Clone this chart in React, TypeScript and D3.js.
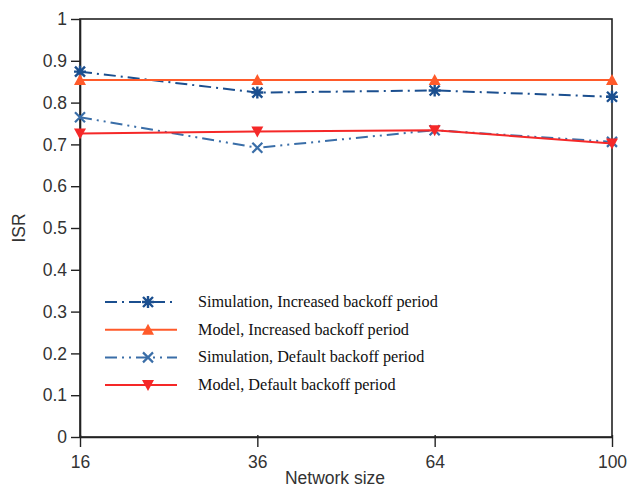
import * as d3 from 'd3'
import { useRef, useEffect } from 'react'

const networkSizes = ['16', '36', '64', '100']
const simIncreased = [0.874, 0.824, 0.829, 0.814]
const modelIncreased = [0.854, 0.854, 0.854, 0.854]
const simDefault = [0.765, 0.692, 0.734, 0.706]
const modelDefault = [0.726, 0.731, 0.734, 0.702]
const yTicks = [0, 0.1, 0.2, 0.3, 0.4, 0.5, 0.6, 0.7, 0.8, 0.9, 1]

const series = [
  { name: 'Simulation, Increased backoff period', values: simIncreased, color: '#1b4f8f', dash: '12,5,2,5', marker: 'star' },
  { name: 'Model, Increased backoff period', values: modelIncreased, color: '#ff5a2a', dash: null, marker: 'up' },
  { name: 'Simulation, Default backoff period', values: simDefault, color: '#3a6ea8', dash: '12,5,2,5,2,5', marker: 'x' },
  { name: 'Model, Default backoff period', values: modelDefault, color: '#f52828', dash: null, marker: 'down' },
]

const sans = 'Liberation Sans, Arial, sans-serif'

function drawMarker(g, type, x, y, color) {
  if (type === 'up') {
    g.append('path').attr('d', `M${x - 6},${y + 5}L${x + 6},${y + 5}L${x},${y - 6}Z`).attr('fill', color)
  } else if (type === 'down') {
    g.append('path').attr('d', `M${x - 6},${y - 5}L${x + 6},${y - 5}L${x},${y + 6}Z`).attr('fill', color)
  } else if (type === 'x') {
    g.append('path').attr('d', `M${x - 5},${y - 5}L${x + 5},${y + 5}M${x - 5},${y + 5}L${x + 5},${y - 5}`)
      .attr('stroke', color).attr('stroke-width', 2.2)
  } else {
    g.append('path').attr('d', `M${x - 5},${y - 5}L${x + 5},${y + 5}M${x - 5},${y + 5}L${x + 5},${y - 5}M${x - 6},${y}L${x + 6},${y}M${x},${y - 6}L${x},${y + 6}`)
      .attr('stroke', color).attr('stroke-width', 2.4)
  }
}

export default function App() {
  const svgRef = useRef(null)

  useEffect(() => {
    const svg = d3.select(svgRef.current)
    svg.selectAll('*').remove()

    const left = 80, right = 612, top = 19, bottom = 437

    const x = d3.scalePoint().domain(networkSizes).range([left, right])
    const y = d3.scaleLinear().domain([0, 1]).range([bottom, top])

    // frame
    svg.append('rect').attr('x', left).attr('y', top).attr('width', right - left).attr('height', bottom - top)
      .attr('fill', 'none').attr('stroke', '#222').attr('stroke-width', 1.6)

    const yAxis = svg.append('g').attr('transform', `translate(${left},0)`)
      .call(d3.axisLeft(y).tickValues(yTicks).tickSize(9).tickSizeOuter(0).tickPadding(4).tickFormat(d => String(+(+d).toFixed(1))))
    const xAxis = svg.append('g').attr('transform', `translate(0,${bottom})`)
      .call(d3.axisBottom(x).tickSize(8).tickSizeOuter(0).tickPadding(4))
    for (const a of [xAxis, yAxis]) {
      a.select('.domain').attr('stroke', '#222').attr('stroke-width', 1.6)
      a.selectAll('.tick line').attr('stroke', '#222').attr('stroke-width', 1.4)
      a.selectAll('.tick text').attr('font-family', sans).attr('font-size', 17.5).attr('fill', '#333')
    }
    xAxis.selectAll('.tick line').attr('y1', -2).attr('y2', 10)
    xAxis.selectAll('.tick text').attr('y', 17).attr('dy', '0.8em')

    svg.append('text').attr('x', 335).attr('y', 484).attr('text-anchor', 'middle')
      .attr('font-family', sans).attr('font-size', 17.5).attr('fill', '#333').text('Network size')
    svg.append('text').attr('transform', 'translate(25,228) rotate(-90)').attr('text-anchor', 'middle')
      .attr('font-family', sans).attr('font-size', 17.5).attr('fill', '#333').text('ISR')

    const line = d3.line().x((d, i) => x(networkSizes[i])).y(d => y(d))

    series.forEach(s => {
      const g = svg.append('g')
      g.append('path').attr('d', line(s.values)).attr('fill', 'none').attr('stroke', s.color)
        .attr('stroke-width', 2).attr('stroke-dasharray', s.dash)
      s.values.forEach((v, i) => drawMarker(g, s.marker, x(networkSizes[i]), y(v), s.color))
    })

    // legend
    const lg = svg.append('g')
    series.forEach((s, i) => {
      const ly = 302 + i * 27.7
      lg.append('line').attr('x1', 105).attr('x2', 177).attr('y1', ly).attr('y2', ly)
        .attr('stroke', s.color).attr('stroke-width', 2).attr('stroke-dasharray', s.dash)
      drawMarker(lg, s.marker, 148, ly, s.color)
      lg.append('text').attr('x', 198).attr('y', ly + 5).attr('font-family', 'Liberation Serif, Times New Roman, serif')
        .attr('font-size', 16.2).attr('fill', '#111').text(s.name)
    })
  }, [])

  return <svg ref={svgRef} width={630} height={488} style={{ position: 'absolute', left: 0, top: 0, display: 'block', background: '#fff' }}></svg>
}
